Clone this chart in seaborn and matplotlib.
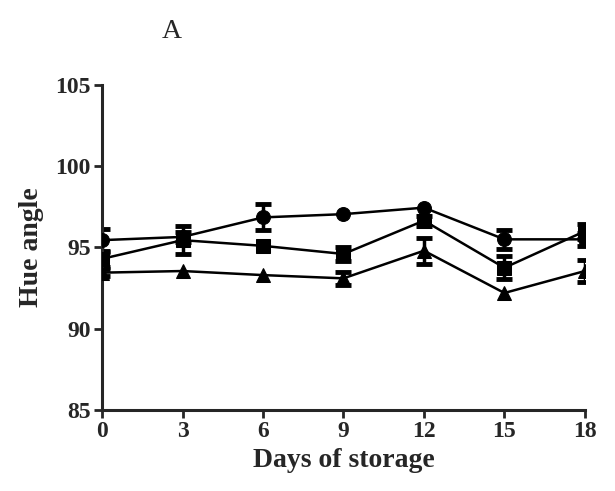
import matplotlib
matplotlib.use("Agg")
import matplotlib.pyplot as plt
import numpy as np
import pandas as pd
import seaborn as sns

days = [0, 3, 6, 9, 12, 15, 18]
circle_vals = [95.45, 95.65, 96.85, 97.05, 97.45, 95.5, 95.5]
circle_err = [0.7, 0.3, 0.8, 0.0, 0.0, 0.6, 0.4]
square_vals = [94.3, 95.45, 95.1, 94.6, 96.65, 93.75, 96.0]
square_err = [0.5, 0.85, 0.0, 0.45, 0.3, 0.7, 0.45]
triangle_vals = [93.45, 93.55, 93.3, 93.1, 94.8, 92.2, 93.55]
triangle_err = [0.2, 0.0, 0.0, 0.4, 0.8, 0.0, 0.65]

series = [
    (circle_vals, circle_err, "o"),
    (square_vals, square_err, "s"),
    (triangle_vals, triangle_err, "^"),
]

sns.set_style("ticks")
plt.rcParams["font.family"] = ["Liberation Serif", "DejaVu Serif"]

fig = plt.figure(figsize=(6.15, 4.91), dpi=100)
ax = fig.add_axes([0.166, 0.165, 0.785, 0.662])

for vals, errs, mk in series:
    d = pd.DataFrame({"day": days, "val": vals, "err": errs})
    # error bars hidden behind the marker are not drawn
    shown = d[d["err"] > 0]
    ax.errorbar(shown["day"], shown["val"], yerr=shown["err"], fmt="none",
                ecolor="black", elinewidth=2.5, capsize=6, capthick=3.5, zorder=2)
    sns.lineplot(data=d, x="day", y="val", marker=mk, color="black", markersize=10,
                 markeredgecolor="black", linewidth=1.8, ax=ax, zorder=3)

ax.set_xlim(0, 18)
ax.set_ylim(85, 105)
ax.set_xticks(days)
ax.set_yticks([85, 90, 95, 100, 105])
ax.set_xlabel("Days of storage", fontsize=20, fontweight="bold", labelpad=4)
ax.set_ylabel("Hue angle", fontsize=20, fontweight="bold", labelpad=8)
ax.tick_params(axis="both", labelsize=17, width=2, length=6, direction="out", pad=2)
for lab in ax.get_xticklabels() + ax.get_yticklabels():
    lab.set_fontweight("bold")
sns.despine(ax=ax)
for s in ["left", "bottom"]:
    ax.spines[s].set_linewidth(2.2)
    ax.spines[s].set_clip_on(False)

fig.text(0.28, 0.935, "A", fontsize=20, ha="center", va="center")

fig.savefig("out.png", dpi=100)
